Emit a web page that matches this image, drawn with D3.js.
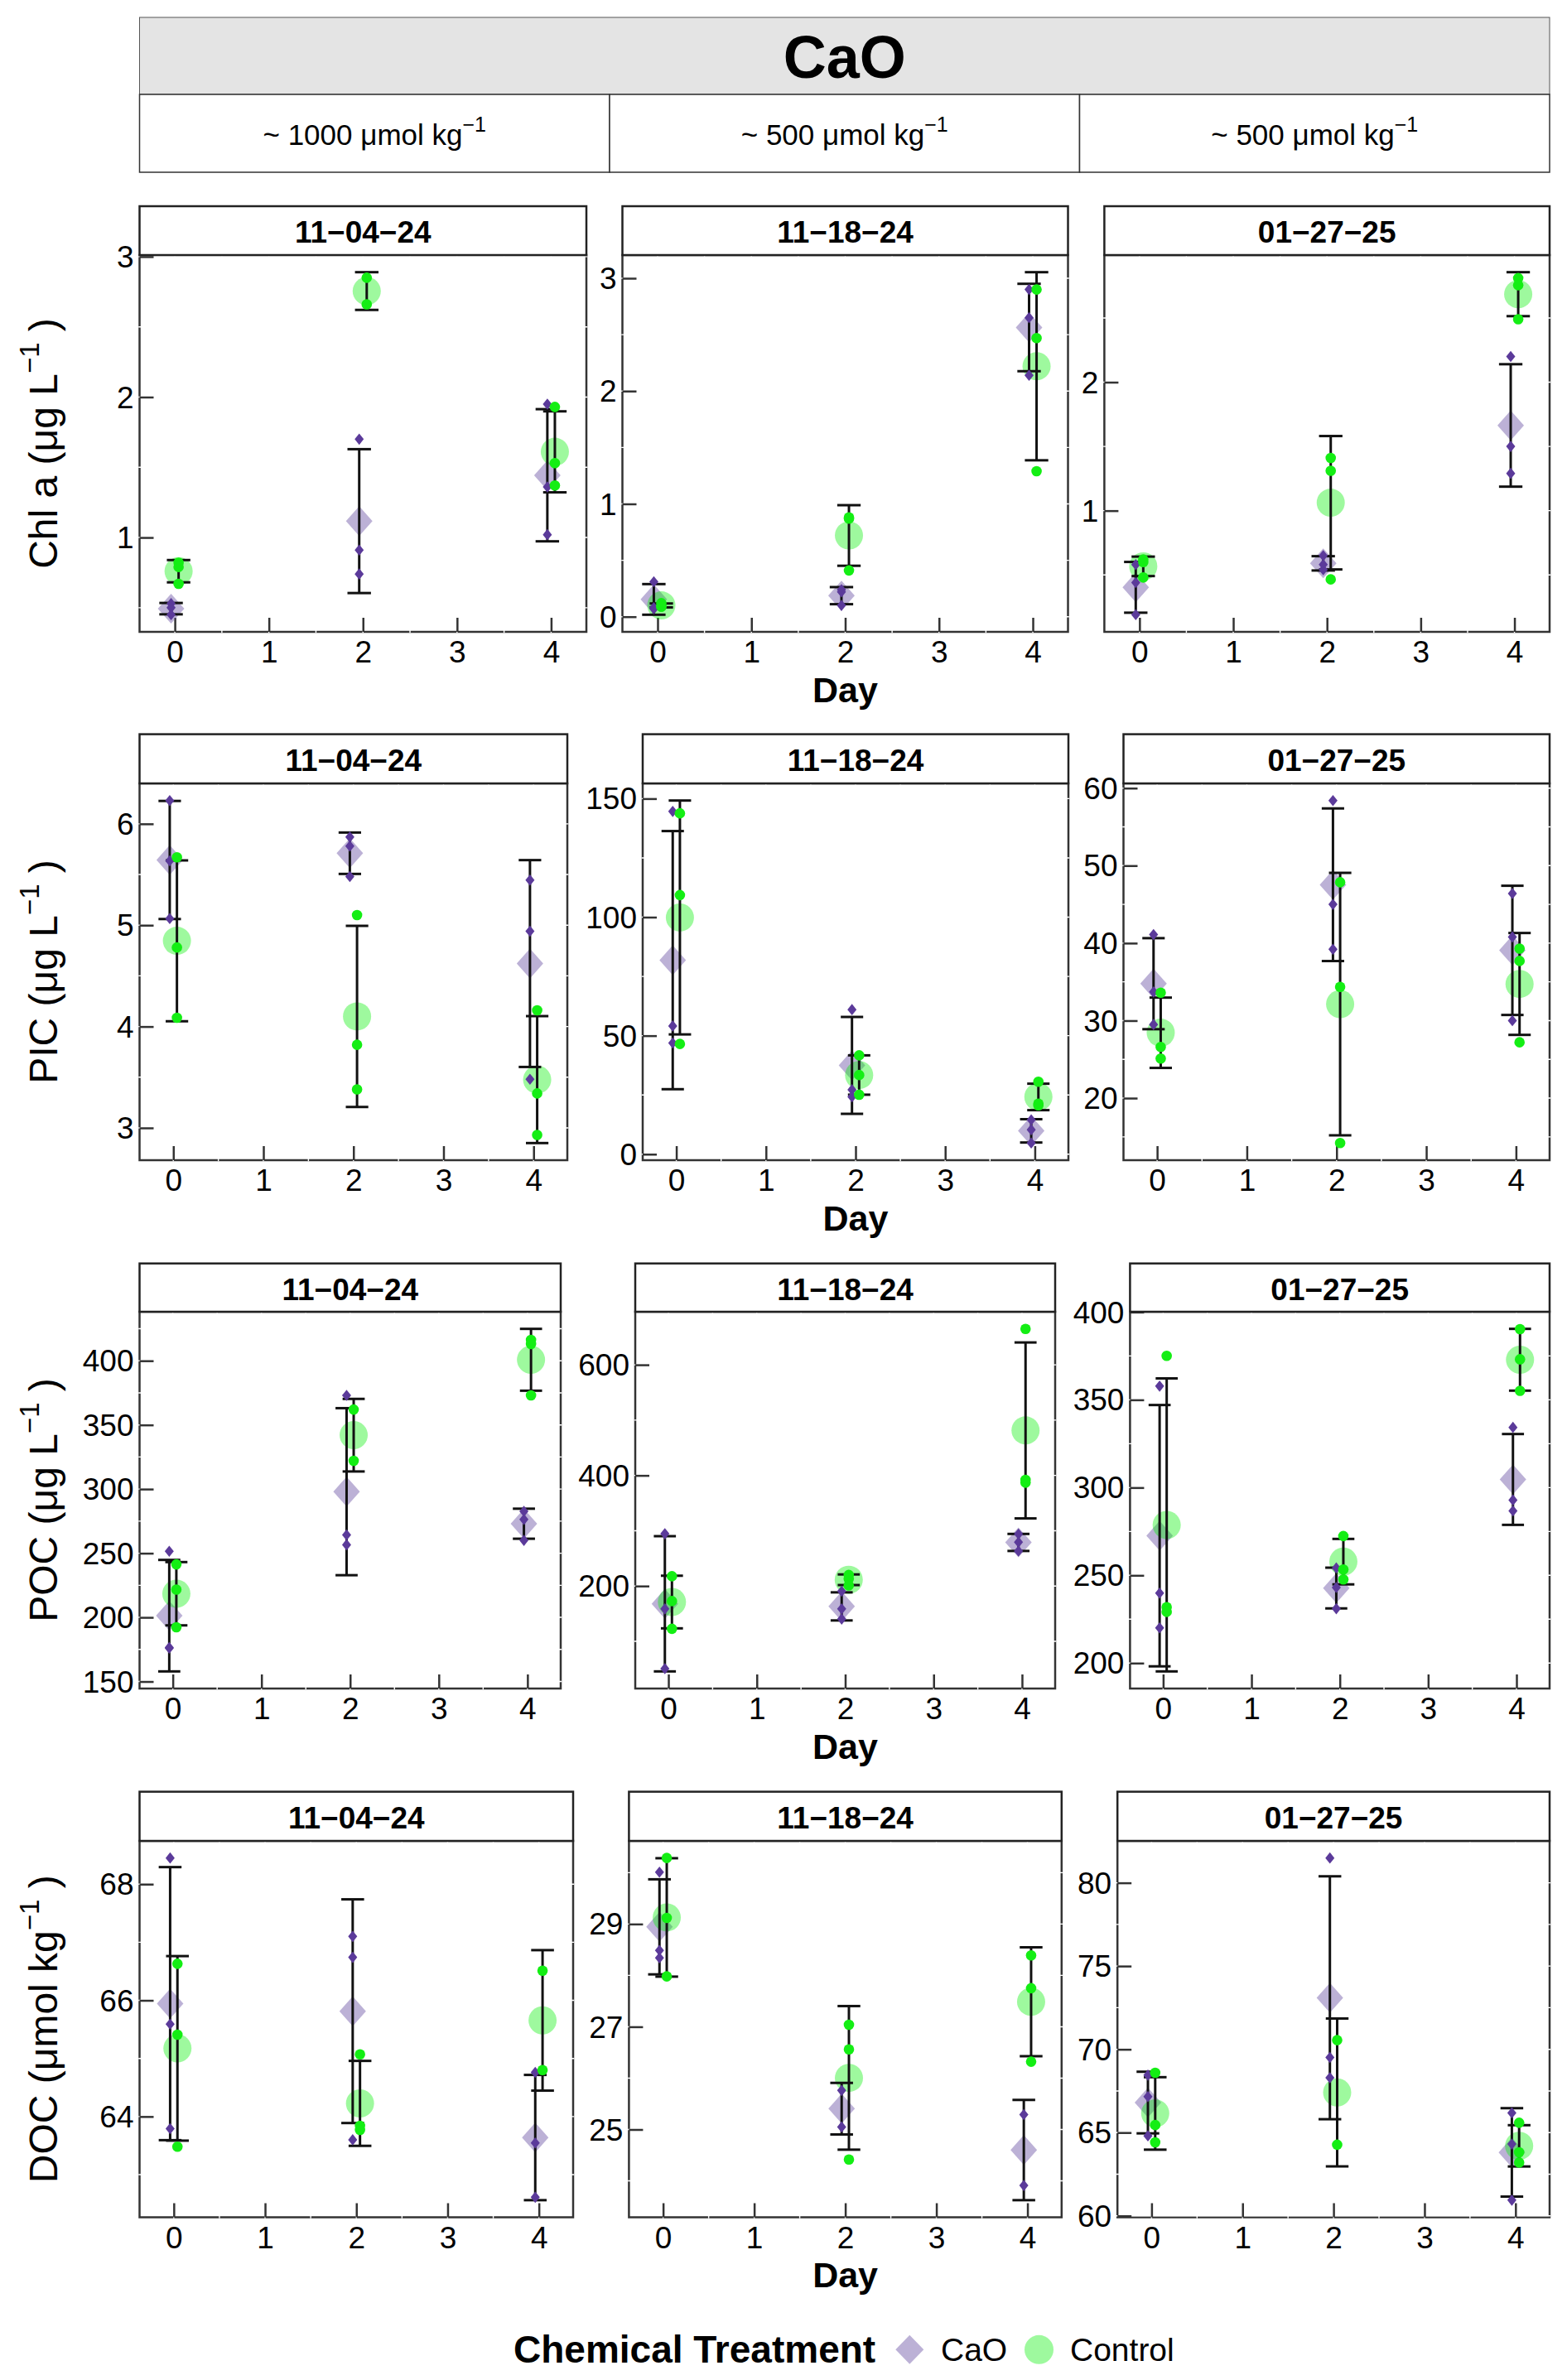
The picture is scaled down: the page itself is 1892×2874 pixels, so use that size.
<!DOCTYPE html>
<html><head><meta charset="utf-8">
<script src="https://cdn.jsdelivr.net/npm/d3@7"></script>
<style>body{margin:0;background:#fff}svg{display:block}</style>
</head><body>
<svg id="chart" width="1892" height="2874"></svg>
<script>
// ---------------- data ----------------
const days = [0, 2, 4];
const xTicks = [0, 1, 2, 3, 4];
const dates = ["11-04-24", "11-18-24", "01-27-25"];
const doses = ["~ 1000", "~ 500", "~ 500"];
const treatments = ["CaO", "Control"];
const variables = ["Chl a", "PIC", "POC", "DOC"];
const units = ["μg L", "μg L", "μg L", "μmol kg"];

// replicates: [date][day] -> values
const chlCaO = [
  [[0.53, 0.50, 0.45], [1.70, 0.91, 0.74], [1.95, 1.36, 1.02]],
  [[0.31, 0.07, 0.08], [0.24, 0.10, 0.22], [2.90, 2.65, 2.14]],
  [[0.58, 0.44, 0.19], [0.65, 0.54, 0.58], [2.20, 1.50, 1.29]]
];
const chlControl = [
  [[0.82, 0.79, 0.67], [2.85, 2.66], [1.93, 1.53, 1.37]],
  [[0.12, 0.09, 0.09], [0.88, 0.41, 0.87], [2.90, 2.47, 1.29]],
  [[0.62, 0.60, 0.48], [1.41, 1.31, 0.465], [2.81, 2.755, 2.49]]
];
const picCaO = [
  [[6.23, 5.635, 5.065], [5.87, 5.78, 5.48], [5.445, 4.94, 3.48]],
  [[144.6, 54.1, 46.9], [61.0, 27.2, 24.2], [14.5, 10.35, 4.7]],
  [[41.1, 33.7, 29.5], [58.4, 45.0, 39.2], [46.4, 40.8, 30.0]]
];
const picControl = [
  [[5.67, 4.78, 4.087], [5.10, 3.82, 3.38], [4.16, 3.34, 2.93]],
  [[143.8, 109.3, 46.5], [41.7, 33.4, 25.1], [30.6, 20.6, 21.3]],
  [[33.6, 26.6, 25.1], [47.85, 34.35, 14.2], [39.3, 37.7, 27.2]]
];
const pocCaO = [
  [[251.5, 176.5, 176], [373, 264.3, 256.6], [282.7, 276.3, 260]],
  [[294.5, 158.6, 50.5], [190.5, 158.6, 140.3], [294, 279.2, 263.2]],
  [[357.8, 239.9, 220.1], [254.2, 243.1, 231], [334.3, 292.9, 286.7]]
];
const pocControl = [
  [[241.3, 221.7, 192.3], [362, 322], [416.3, 413, 373]],
  [[217.7, 172.8, 122.6], [220, 213, 201], [665, 392, 387]],
  [[375.1, 231.9, 229.2], [272.4, 253.3, 247.7], [390.3, 373.1, 355.1]]
];
const docCaO = [
  [[68.45, 65.59, 63.79], [67.10, 66.74, 63.60], [64.76, 63.545, 62.61]],
  [[30.01, 28.485, 28.34], [25.76, 25.05], [25.29, 23.91]],
  [[68.45, 67.16, 64.80], [81.49, 69.51, 68.29], [66.18, 64.31, 60.94]]
];
const docControl = [
  [[66.63, 65.41, 63.48], [65.07, 63.84, 63.77], [66.51, 64.80]],
  [[30.285, 29.12, 27.98], [27.04, 26.56, 24.415], [28.39, 27.75, 26.32]],
  [[68.59, 65.45, 64.41], [70.55, 64.27], [65.59, 63.82, 63.20]]
];

// y tick labels per panel
const chlTicks = [[1, 2, 3], [0, 1, 2, 3], [1, 2]];
const picTicks = [[3, 4, 5, 6], [0, 50, 100, 150], [20, 30, 40, 50, 60]];
const pocTicks = [[150, 200, 250, 300, 350, 400], [200, 400, 600], [200, 250, 300, 350, 400]];
const docTicks = [[64, 66, 68], [25, 27, 29], [60, 65, 70, 75, 80]];

const seriesCaO = [chlCaO, picCaO, pocCaO, docCaO];
const seriesControl = [chlControl, picControl, pocControl, docControl];
const yTicks = [chlTicks, picTicks, pocTicks, docTicks];

// ---------------- layout ----------------
const FONT = "'Liberation Sans', Arial, Helvetica, sans-serif";
const rows = [
  {top: 249, strip: 59, bottom: 763, cols: [[168.5, 708], [751.5, 1289.5], [1333.4, 1871]]},
  {top: 886.6, strip: 59.4, bottom: 1401, cols: [[168.5, 685], [776, 1290], [1356.5, 1871]]},
  {top: 1525.7, strip: 58.3, bottom: 2039, cols: [[168.5, 677], [767, 1274], [1364.4, 1871]]},
  {top: 2163.6, strip: 59.4, bottom: 2677.5, cols: [[168.5, 692], [759.4, 1281.8], [1349.2, 1871]]}
];
const dodge = 0.04;
const capHalf = 0.125;
const colCaO = "#5b3a9a", colCaOMean = "#6a51a3";
const colCtl = "#14ee14", colCtlMean = "#00ee00";

const diamondPath = (cx, cy, hw, hh) => {
  const p = d3.path();
  p.moveTo(cx, cy - hh); p.lineTo(cx + hw, cy); p.lineTo(cx, cy + hh); p.lineTo(cx - hw, cy); p.closePath();
  return p.toString();
};

const svg = d3.select("#chart").style("font-family", FONT);
svg.append("rect").attr("width", 1892).attr("height", 2874).attr("fill", "#fff");

// ---------------- top strips ----------------
const stripL = 168.5, stripR = 1871;
svg.append("rect").attr("x", stripL).attr("y", 21).attr("width", stripR - stripL).attr("height", 93)
  .attr("fill", "#e4e4e4").attr("stroke", "#555").attr("stroke-width", 1);
svg.append("text").attr("x", (stripL + stripR) / 2).attr("y", 94).attr("text-anchor", "middle")
  .attr("font-size", 72).attr("font-weight", "bold").text(treatments[0]);

const doseX = d3.scaleBand().domain(d3.range(doses.length)).range([stripL, stripR]).paddingInner(0).paddingOuter(0);
doses.forEach((d, i) => {
  svg.append("rect").attr("x", doseX(i)).attr("y", 114).attr("width", doseX.bandwidth()).attr("height", 94)
    .attr("fill", "#fff").attr("stroke", "#333").attr("stroke-width", 1.5);
  const t = svg.append("text").attr("x", doseX(i) + doseX.bandwidth() / 2).attr("y", 175)
    .attr("text-anchor", "middle").attr("font-size", 35);
  t.append("tspan").text(d + " μmol kg");
  t.append("tspan").attr("font-size", 25).attr("dy", -16).text("−1");
});

// ---------------- panels ----------------
rows.forEach((row, r) => {
  const plotTop = row.top + row.strip, plotBot = row.bottom;
  const yt = svg.append("text").attr("transform", `translate(69,${(plotTop + plotBot) / 2}) rotate(-90)`)
    .attr("text-anchor", "middle").attr("font-size", 48);
  yt.append("tspan").text(`${variables[r]} (${units[r]}`);
  yt.append("tspan").attr("font-size", 33).attr("dy", -22).text("−1");
  yt.append("tspan").attr("dy", 22).text("\u00a0)");

  row.cols.forEach(([x0, x1], p) => {
    const cao = seriesCaO[r][p], ctl = seriesControl[r][p];
    const summ = arr => arr.map((v, i) => ({day: days[i], reps: v, mean: d3.mean(v), sd: d3.deviation(v)}));
    const sC = summ(cao), sK = summ(ctl);
    const allVals = [];
    [...sC, ...sK].forEach(s => { allVals.push(...s.reps, s.mean - s.sd, s.mean + s.sd); });
    const [lo, hi] = d3.extent(allVals);
    const pad = (hi - lo) * 0.05;
    const x = d3.scaleLinear().domain([-0.375, 4.375]).range([x0, x1]);
    const y = d3.scaleLinear().domain([lo - pad, hi + pad]).range([plotBot, plotTop]);
    const g = svg.append("g");

    g.append("rect").attr("x", x0).attr("y", plotTop).attr("width", x1 - x0).attr("height", plotBot - plotTop)
      .attr("fill", "#fff").attr("stroke", "#333").attr("stroke-width", 2.5);

    const ticks = yTicks[r][p];
    const step = ticks[1] - ticks[0];
    const yGrid = [];
    for (let v = ticks[0] - step; v <= y.domain()[1]; v += step / 2) {
      if (v >= y.domain()[0] && v <= y.domain()[1]) yGrid.push(v);
    }
    const xGrid = d3.range(0, 4.01, 0.5);
    g.selectAll(".gx").data(xGrid).join("line")
      .attr("x1", d => x(d)).attr("x2", d => x(d)).attr("y1", plotTop - 1.3).attr("y2", plotBot + 1.3)
      .attr("stroke", "#fff").attr("stroke-width", 1.4);
    g.selectAll(".gy").data(yGrid).join("line")
      .attr("y1", d => y(d)).attr("y2", d => y(d)).attr("x1", x0 - 1.3).attr("x2", x1 + 1.3)
      .attr("stroke", "#fff").attr("stroke-width", 1.4);

    const ax = g.append("g").attr("transform", `translate(0,${plotBot})`)
      .call(d3.axisBottom(x).tickValues(xTicks).tickFormat(d3.format("d")).tickSizeInner(-17).tickSizeOuter(0).tickPadding(11));
    const ay = g.append("g").attr("transform", `translate(${x0},0)`)
      .call(d3.axisLeft(y).tickValues(ticks).tickFormat(d => String(d)).tickSizeInner(-17).tickSizeOuter(0).tickPadding(7));
    [ax, ay].forEach(a => {
      a.attr("font-family", FONT).attr("font-size", 37);
      a.select(".domain").remove();
      a.selectAll(".tick line").attr("stroke", "#333").attr("stroke-width", 2.5);
      a.selectAll(".tick text").attr("fill", "#000");
    });
    ay.selectAll(".tick text").attr("dy", "0.34em");

    const drawMeans = (s, off, isCaO) => {
      s.forEach(d => {
        const cx = x(d.day + off), cy = y(d.mean);
        if (isCaO) g.append("path").attr("d", diamondPath(cx, cy, 16, 18)).attr("fill", colCaOMean).attr("fill-opacity", 0.45);
        else g.append("circle").attr("cx", cx).attr("cy", cy).attr("r", 17).attr("fill", colCtlMean).attr("fill-opacity", 0.38);
      });
    };
    const drawBars = (s, off) => {
      s.forEach(d => {
        const xs = x(d.day + off), yl = y(d.mean - d.sd), yh = y(d.mean + d.sd);
        const eb = g.append("g").attr("stroke", "#111").attr("stroke-width", 3);
        eb.append("line").attr("x1", xs).attr("x2", xs).attr("y1", yl).attr("y2", yh);
        eb.append("line").attr("x1", x(d.day + off - capHalf)).attr("x2", x(d.day + off + capHalf)).attr("y1", yl).attr("y2", yl);
        eb.append("line").attr("x1", x(d.day + off - capHalf)).attr("x2", x(d.day + off + capHalf)).attr("y1", yh).attr("y2", yh);
      });
    };
    const drawReps = (s, off, isCaO) => {
      s.forEach(d => {
        d.reps.forEach(v => {
          const cx = x(d.day + off), cy = y(v);
          if (isCaO) g.append("path").attr("d", diamondPath(cx, cy, 5.5, 6.8)).attr("fill", colCaO);
          else g.append("circle").attr("cx", cx).attr("cy", cy).attr("r", 6.3).attr("fill", colCtl);
        });
      });
    };
    drawMeans(sC, -dodge, true);
    drawMeans(sK, dodge, false);
    drawBars(sC, -dodge);
    drawBars(sK, dodge);
    drawReps(sC, -dodge, true);
    drawReps(sK, dodge, false);

    g.append("rect").attr("x", x0).attr("y", row.top).attr("width", x1 - x0).attr("height", row.strip)
      .attr("fill", "#fff").attr("stroke", "#222").attr("stroke-width", 2.5);
    g.append("text").attr("x", (x0 + x1) / 2).attr("y", row.top + 44).attr("text-anchor", "middle")
      .attr("font-size", 37).attr("font-weight", "bold").text(dates[p].replace(/-/g, "−"));

    if (p === 1) {
      svg.append("text").attr("x", (x0 + x1) / 2).attr("y", plotBot + 84.5).attr("text-anchor", "middle")
        .attr("font-size", 43).attr("font-weight", "bold").text("Day");
    }
  });
});

// ---------------- legend ----------------
const lg = svg.append("g");
lg.append("text").attr("x", 620).attr("y", 2853).attr("font-size", 46).attr("font-weight", "bold").text("Chemical Treatment");
lg.append("path").attr("d", diamondPath(1098.3, 2837.3, 17, 17.5)).attr("fill", colCaOMean).attr("fill-opacity", 0.45);
lg.append("text").attr("x", 1136).attr("y", 2851).attr("font-size", 39).text(treatments[0]);
lg.append("circle").attr("cx", 1254.5).attr("cy", 2837.3).attr("r", 17.5).attr("fill", colCtlMean).attr("fill-opacity", 0.38);
lg.append("text").attr("x", 1292).attr("y", 2851).attr("font-size", 39).text(treatments[1]);
</script>
</body></html>
